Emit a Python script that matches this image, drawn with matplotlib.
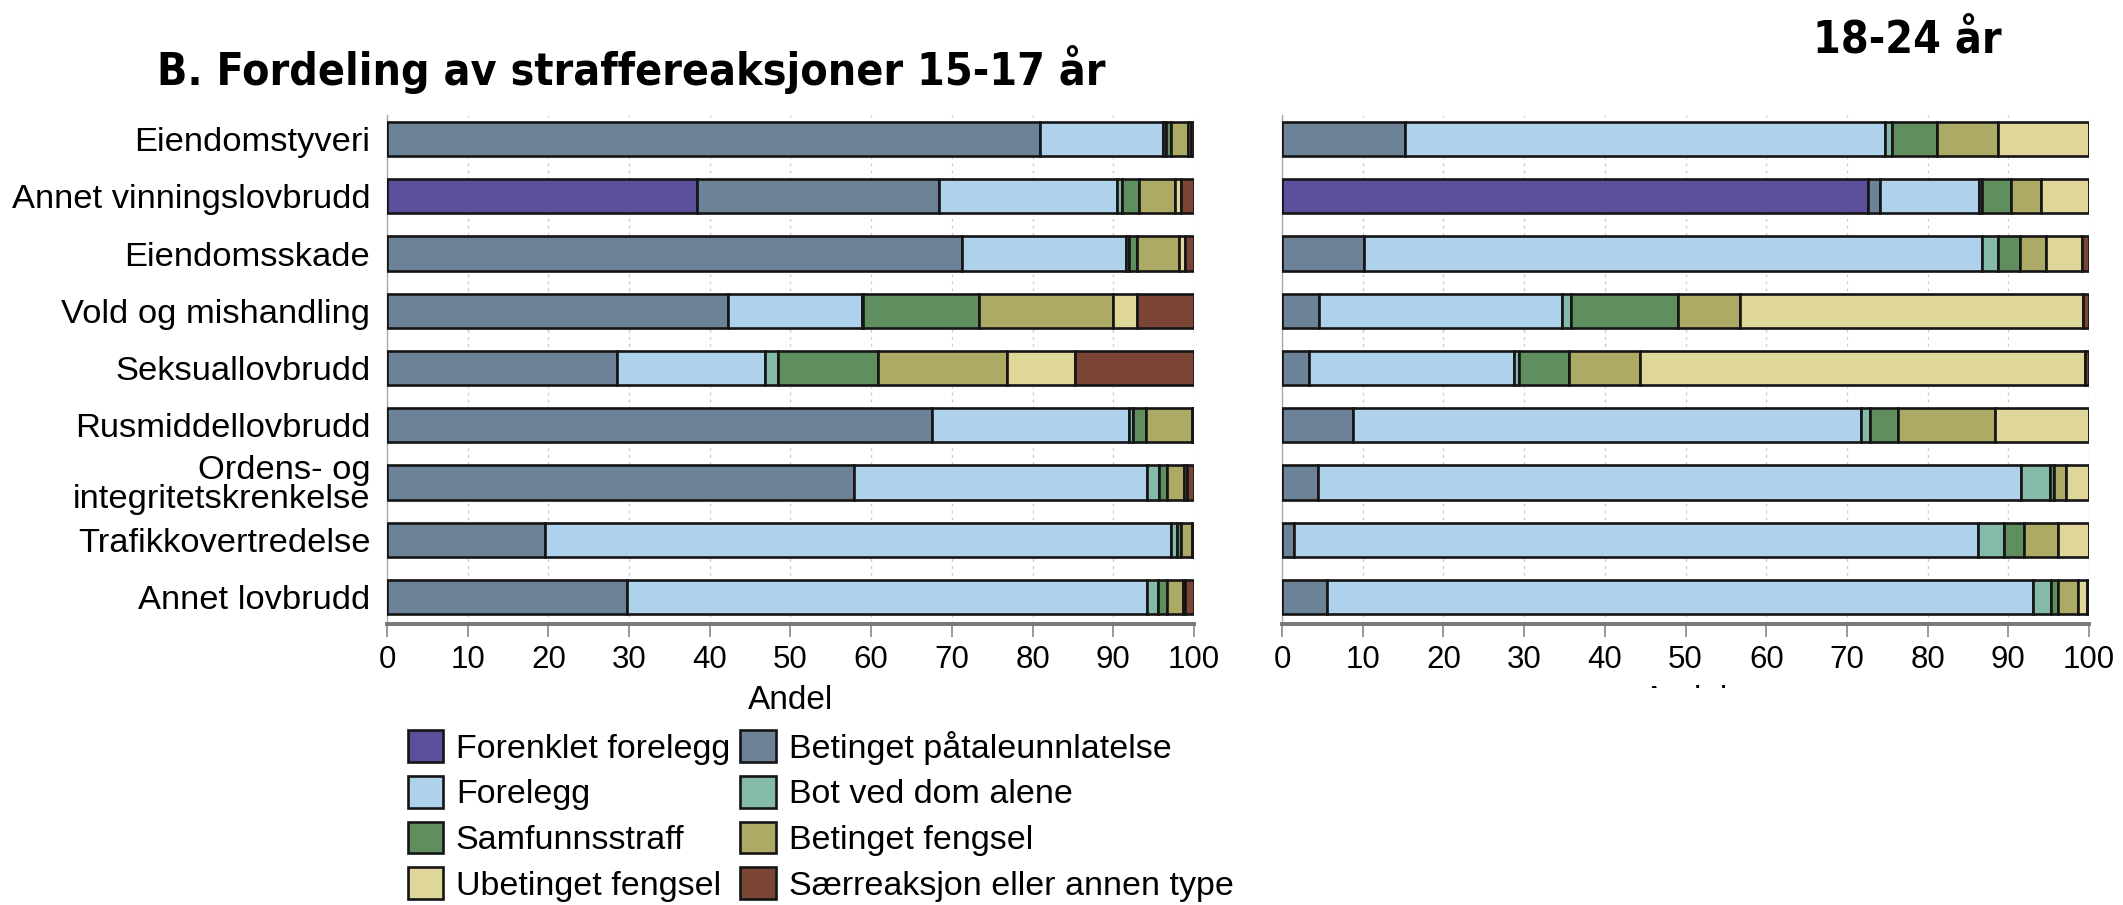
import numpy as np
import matplotlib
matplotlib.use("Agg")
import matplotlib.pyplot as plt
from matplotlib.transforms import Bbox

# kategorier (lovbrudd), ovenfra og ned
kategorier = ["Eiendomstyveri", "Annet vinningslovbrudd", "Eiendomsskade",
              "Vold og mishandling", "Seksuallovbrudd", "Rusmiddellovbrudd",
              "Ordens- og\nintegritetskrenkelse", "Trafikkovertredelse",
              "Annet lovbrudd"]

reaksjoner = ["Forenklet forelegg", "Betinget påtaleunnlatelse", "Forelegg",
              "Bot ved dom alene", "Samfunnsstraff", "Betinget fengsel",
              "Ubetinget fengsel", "Særreaksjon eller annen type"]

farger = ["#5B4E9B", "#6C8296", "#AFD2EC", "#84BAA8",
          "#5F8F5F", "#ADAA66", "#DFD69A", "#7A4535"]

# andeler (%) 15-17 år, en rad per kategori, kolonner i samme rekkefolge som reaksjoner
andel_15_17 = [
    [0.0, 80.9, 15.3, 0.3, 0.6, 2.2, 0.3, 0.4],
    [38.4, 30.0, 22.0, 0.7, 2.1, 4.4, 0.8, 1.6],
    [0.0, 71.3, 20.3, 0.4, 0.9, 5.3, 0.7, 1.1],
    [0.0, 42.3, 16.5, 0.2, 14.3, 16.7, 2.9, 7.1],
    [0.0, 28.5, 18.4, 1.6, 12.3, 16.0, 8.4, 14.8],
    [0.0, 67.5, 24.4, 0.6, 1.5, 5.7, 0.2, 0.1],
    [0.0, 57.9, 36.3, 1.5, 0.9, 2.2, 0.3, 0.9],
    [0.0, 19.6, 77.6, 0.7, 0.5, 1.3, 0.3, 0.0],
    [0.0, 29.8, 64.4, 1.3, 1.1, 2.1, 0.2, 1.1],
]

# andeler (%) 18-24 år
andel_18_24 = [
    [0.0, 15.2, 59.5, 0.9, 5.5, 7.6, 11.3, 0.0],
    [72.6, 1.5, 12.3, 0.3, 3.6, 3.7, 6.0, 0.0],
    [0.0, 10.2, 76.5, 2.0, 2.8, 3.2, 4.4, 0.9],
    [0.0, 4.6, 30.1, 1.1, 13.3, 7.6, 42.6, 0.7],
    [0.0, 3.3, 25.4, 0.7, 6.1, 8.8, 55.2, 0.5],
    [0.0, 8.8, 63.0, 1.0, 3.5, 12.0, 11.7, 0.0],
    [0.0, 4.5, 87.1, 3.6, 0.5, 1.5, 2.8, 0.0],
    [0.0, 1.5, 84.7, 3.3, 2.4, 4.3, 3.8, 0.0],
    [0.0, 5.6, 87.5, 2.2, 0.9, 2.4, 1.2, 0.2],
]

plt.rcParams['font.family'] = ['Liberation Sans', 'DejaVu Sans']

fig = plt.figure(figsize=(21.23, 9.05), dpi=100)
ax1 = fig.add_axes([0.1823, 0.3105, 0.3801, 0.5625])
ax2 = fig.add_axes([0.6039, 0.3105, 0.3801, 0.5625])


def tegn(ax, data, vis_etiketter):
    data = np.array(data)
    y = np.arange(len(kategorier))
    venstre = np.zeros(len(kategorier))
    for j in range(len(reaksjoner)):
        ax.barh(y, data[:, j], left=venstre, height=0.6, color=farger[j],
                edgecolor="#151515", linewidth=1.9, label=reaksjoner[j], zorder=3)
        venstre += data[:, j]
    ax.set_xlim(0, 100)
    ax.set_ylim(8.47, -0.42)
    ax.set_xticks(np.arange(0, 101, 10))
    ax.tick_params(axis="x", labelsize=22.5, length=9, width=1.2, color="#888888", pad=6)
    ax.grid(axis="x", color="#cccccc", linestyle=(0, (2, 3)), linewidth=1, zorder=0)
    ax.set_yticks(y)
    if vis_etiketter:
        ax.set_yticklabels(kategorier, fontsize=24.8, linespacing=0.92)
    else:
        ax.set_yticklabels([])
    ax.tick_params(axis="y", length=0, pad=12)
    ax.spines["top"].set_visible(False)
    ax.spines["right"].set_visible(False)
    ax.spines["left"].set_color("#aaaaaa")
    ax.spines["left"].set_linewidth(1)
    ax.spines["bottom"].set_color("#777777")
    ax.spines["bottom"].set_linewidth(2.8)


tegn(ax1, andel_15_17, True)
tegn(ax2, andel_18_24, False)

ax1.set_xlabel("Andel", fontsize=24, labelpad=7)
lbl2 = ax2.set_xlabel("Andel", fontsize=24, labelpad=7)
# nederste del av den hoyre aksetittelen er kuttet bort i originalen
lbl2.set_clip_box(Bbox.from_extents(0, 905 - 688, 2123, 905))
lbl2.set_clip_on(True)

fig.text(0.074, 0.923, "B. Fordeling av straffereaksjoner 15-17 år",
         fontsize=32, fontweight="bold", family="DejaVu Sans",
         fontstretch="condensed", va="center", ha="left")
fig.text(0.854, 0.956, "18-24 år", fontsize=32, fontweight="bold",
         family="DejaVu Sans", fontstretch="condensed", va="center", ha="left")

handles, labels = ax1.get_legend_handles_labels()
rekkefolge = [0, 2, 4, 6, 1, 3, 5, 7]
fig.legend([handles[i] for i in rekkefolge], [labels[i] for i in rekkefolge],
           loc="upper left", bbox_to_anchor=(0.192, 0.193), ncol=2,
           frameon=False, fontsize=24.5, handlelength=1.05, handleheight=1.05,
           handletextpad=0.37, columnspacing=0.3, labelspacing=0.33,
           borderpad=0, borderaxespad=0)

fig.savefig("out.png", dpi=100)
